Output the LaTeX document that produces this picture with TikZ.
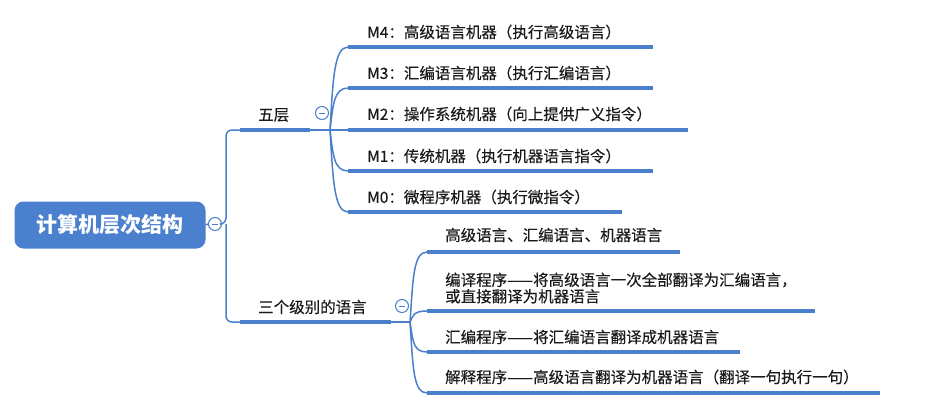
\documentclass[tikz,border=0pt]{standalone}
\usepackage{fontspec}
\setmainfont{Noto Sans CJK SC}
\newfontfamily\medfont[FakeBold=0.3]{Noto Sans CJK SC}
\definecolor{lineblue}{HTML}{4A7FCC}
\definecolor{rootblue}{HTML}{4A80CD}
\definecolor{txt}{HTML}{1A1A1A}
\tikzset{
  leaf/.style={anchor=west, inner sep=0pt, text=txt, font=\medfont\fontsize{15.5}{16.5}\selectfont, align=left},
  uline/.style={draw=lineblue, line width=3.6pt},
  thinline/.style={draw=lineblue, line width=1.5pt},
  fold/.style={circle, draw=lineblue, fill=white, line width=1pt, minimum size=13pt, inner sep=0pt,
    path picture={\draw[lineblue, line width=1pt] ([xshift=-3pt]path picture bounding box.center) -- ([xshift=3pt]path picture bounding box.center);}},
  rootbox/.style={rounded corners=9pt, fill=rootblue, text=white, minimum width=191pt, minimum height=47pt, inner sep=0pt,
    font=\fontsize{21}{24}\selectfont\bfseries}
}
\begin{document}
\begin{tikzpicture}[x=1pt, y=-1pt]
\useasboundingbox (0,0) rectangle (929,407);
% root
\node[rootbox] (root) at (110,225) {计算机层次结构};
\node[fold] (f0) at (215,224) {};
\coordinate (sp) at (226,224);
\draw[thinline] (root.east) -- (f0.west);
% branch 1
\coordinate (b1s) at (240,130);
\coordinate (b1e) at (310,130);
\coordinate (o1) at (330,130);
\draw[thinline, rounded corners=6pt] (f0.east) -- (sp) |- (b1s);
\draw[uline] (b1s) -- (b1e);
\draw[thinline] (b1e) -- (o1);
\node[leaf] (t1) at (258,115) {五层};
\node[fold] (f1) at (322,113) {};
% branch 2
\coordinate (b2s) at (240,322);
\coordinate (b2e) at (391,322);
\coordinate (o2) at (410,322);
\draw[thinline, rounded corners=6pt] (sp) |- (b2s);
\draw[uline] (b2s) -- (b2e);
\draw[thinline] (b2e) -- (o2);
\node[leaf] (t2) at (258,307) {三个级别的语言};
\node[fold] (f2) at (402,306) {};
% children of branch 1
\coordinate (m4s) at (348,47);  \coordinate (m4e) at (653,47);
\coordinate (m3s) at (348,88);  \coordinate (m3e) at (653,88);
\coordinate (m2s) at (348,130); \coordinate (m2e) at (688,130);
\coordinate (m1s) at (348,171); \coordinate (m1e) at (653,171);
\coordinate (m0s) at (348,212); \coordinate (m0e) at (622,212);
\foreach \c/\d in {m4/-50,m3/-25,m1/25,m0/49}{
  \draw[thinline] (o1) .. controls +(3,\d) and +(-14,0) .. (\c s);
}
\draw[thinline] (o1) -- (m2s);
\foreach \c in {m4,m3,m2,m1,m0}{
  \draw[uline] (\c s) -- (\c e);
}
\node[leaf] (m4) at (367,32) {M4：高级语言机器（执行高级语言）};
\node[leaf] (m3) at (367,73) {M3：汇编语言机器（执行汇编语言）};
\node[leaf] (m2) at (367,114) {M2：操作系统机器（向上提供广义指令）};
\node[leaf] (m1) at (367,156) {M1：传统机器（执行机器语言指令）};
\node[leaf] (m0) at (367,197) {M0：微程序机器（执行微指令）};
% children of branch 2
\coordinate (h1s) at (427,252); \coordinate (h1e) at (680,252);
\coordinate (h2s) at (427,311); \coordinate (h2e) at (815,311);
\coordinate (h3s) at (427,352); \coordinate (h3e) at (740,352);
\coordinate (h4s) at (427,393); \coordinate (h4e) at (880,393);
\foreach \c/\d in {h1/-41,h2/-6,h3/19,h4/44}{
  \draw[thinline] (o2) .. controls +(3,\d) and +(-14,0) .. (\c s);
  \draw[uline] (\c s) -- (\c e);
}
\node[leaf] (h1) at (445,235) {高级语言、汇编语言、机器语言};
\node[leaf] (h2) at (445,288) {编译程序——将高级语言一次全部翻译为汇编语言，\\或直接翻译为机器语言};
\node[leaf] (h3) at (445,337) {汇编程序——将汇编语言翻译成机器语言};
\node[leaf] (h4) at (445,377) {解释程序——高级语言翻译为机器语言（翻译一句执行一句）};
\end{tikzpicture}
\end{document}
